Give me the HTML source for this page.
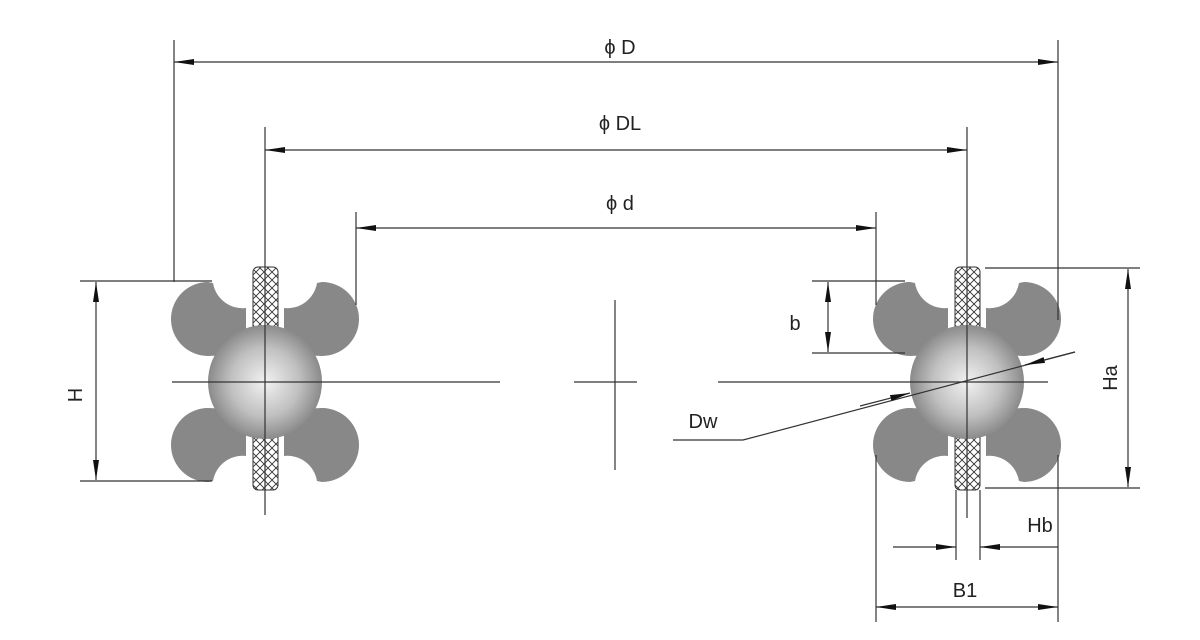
<!DOCTYPE html>
<html><head><meta charset="utf-8"><style>
html,body{margin:0;padding:0;background:#fff;}
svg{display:block}
text{font-family:"Liberation Sans",sans-serif;fill:#222;}
</style></head><body>
<svg width="1200" height="640" viewBox="0 0 1200 640" xmlns="http://www.w3.org/2000/svg">
<defs>
<radialGradient id="ball" cx="0.5" cy="0.5" r="0.5">
<stop offset="0" stop-color="#f2f2f2"/>
<stop offset="0.6" stop-color="#c0c0c0"/>
<stop offset="1" stop-color="#8a8a8a"/>
</radialGradient>
<pattern id="hatch" width="8" height="8" patternUnits="userSpaceOnUse">
<rect width="8" height="8" fill="#fff"/>
<path d="M0 0L8 8M8 0L0 8" stroke="#333" stroke-width="0.9"/>
</pattern>
<marker id="ar" markerWidth="20" markerHeight="8" refX="20" refY="4" orient="auto" markerUnits="userSpaceOnUse">
<path d="M0 1L20 4L0 7Z" fill="#111"/>
</marker>
<marker id="al" markerWidth="20" markerHeight="8" refX="0" refY="4" orient="auto" markerUnits="userSpaceOnUse">
<path d="M20 1L0 4L20 7Z" fill="#111"/>
</marker>
<path id="rol" d="M213 283 A30 30 0 0 0 246 308 L246 338 Q232 356 208 356 A37 37 0 0 1 208 282 Z" fill="#888"/>
<g id="asm">
<use href="#rol"/>
<use href="#rol" transform="translate(530,0) scale(-1,1)"/>
<use href="#rol" transform="translate(0,764) scale(1,-1)"/>
<use href="#rol" transform="translate(530,764) scale(-1,-1)"/>
<rect x="253" y="267" width="25" height="82" rx="5" fill="url(#hatch)" stroke="#333" stroke-width="1"/>
<rect x="253" y="416" width="25" height="74" rx="5" fill="url(#hatch)" stroke="#333" stroke-width="1"/>
<circle cx="265" cy="382" r="57" fill="url(#ball)"/>
</g>
</defs>

<use href="#asm"/>
<use href="#asm" transform="translate(702,0)"/>

<g stroke="#333" stroke-width="1.2" fill="none">
<line x1="174" y1="40" x2="174" y2="282"/>
<line x1="1058" y1="40" x2="1058" y2="320"/>
<line x1="174" y1="62" x2="1058" y2="62" marker-start="url(#al)" marker-end="url(#ar)"/>
<line x1="265" y1="127" x2="265" y2="515"/>
<line x1="967" y1="127" x2="967" y2="518"/>
<line x1="265" y1="150" x2="967" y2="150" marker-start="url(#al)" marker-end="url(#ar)"/>
<line x1="356" y1="212" x2="356" y2="305"/>
<line x1="876" y1="212" x2="876" y2="305"/>
<line x1="356" y1="228" x2="876" y2="228" marker-start="url(#al)" marker-end="url(#ar)"/>
<line x1="172" y1="382" x2="500" y2="382"/>
<line x1="574" y1="382" x2="637" y2="382"/>
<line x1="615" y1="300" x2="615" y2="470"/>
<line x1="718" y1="382" x2="1048" y2="382"/>
<line x1="80" y1="281" x2="212" y2="281"/>
<line x1="80" y1="481" x2="212" y2="481"/>
<line x1="96" y1="282" x2="96" y2="480" marker-start="url(#al)" marker-end="url(#ar)"/>
<line x1="812" y1="281" x2="905" y2="281"/>
<line x1="812" y1="353" x2="905" y2="353"/>
<line x1="828" y1="282" x2="828" y2="352" marker-start="url(#al)" marker-end="url(#ar)"/>
<line x1="985" y1="268" x2="1140" y2="268"/>
<line x1="985" y1="488" x2="1140" y2="488"/>
<line x1="1128" y1="269" x2="1128" y2="487" marker-start="url(#al)" marker-end="url(#ar)"/>
<polyline points="673,440 743,440 1075,352"/>
<line x1="860" y1="406" x2="910" y2="393" marker-end="url(#ar)"/>
<line x1="1075" y1="352" x2="1025" y2="365" marker-end="url(#ar)"/>
<line x1="956" y1="490" x2="956" y2="560"/>
<line x1="980" y1="490" x2="980" y2="560"/>
<line x1="893" y1="547" x2="956" y2="547" marker-end="url(#ar)"/>
<line x1="1058" y1="547" x2="980" y2="547" marker-end="url(#ar)"/>
<line x1="876" y1="455" x2="876" y2="622"/>
<line x1="1058" y1="455" x2="1058" y2="622"/>
<line x1="876" y1="607" x2="1058" y2="607" marker-start="url(#al)" marker-end="url(#ar)"/>
</g>

<g font-size="20">
<text x="620" y="54" text-anchor="middle">ϕ D</text>
<text x="620" y="130" text-anchor="middle">ϕ DL</text>
<text x="620" y="210" text-anchor="middle">ϕ d</text>
<text x="795" y="330" text-anchor="middle">b</text>
<text x="703" y="428" text-anchor="middle">Dw</text>
<text x="1040" y="532" text-anchor="middle">Hb</text>
<text x="965" y="597" text-anchor="middle">B1</text>
<text transform="translate(82,395) rotate(-90)" text-anchor="middle">H</text>
<text transform="translate(1117,378) rotate(-90)" text-anchor="middle">Ha</text>
</g>
</svg>
</body></html>
